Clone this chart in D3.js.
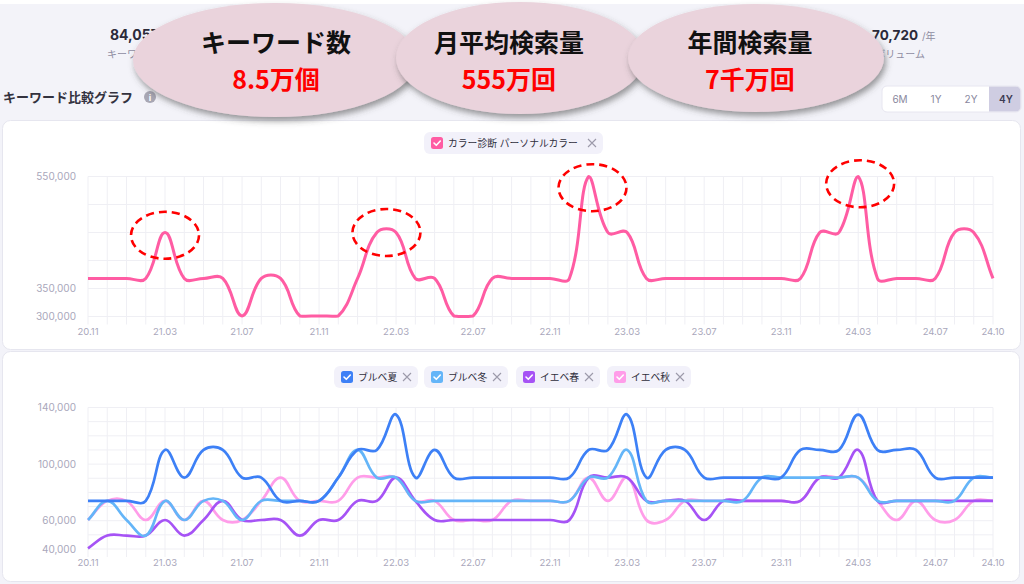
<!DOCTYPE html>
<html>
<head>
<meta charset="utf-8">
<script src="https://cdn.jsdelivr.net/npm/d3@7"></script>
<style>
  html, body { margin: 0; padding: 0; background: #f3f3f9; }
  svg { display: block; font-family: Inter, "Noto Sans CJK JP", sans-serif; }
</style>
</head>
<body>
<svg id="chart"></svg>
<script>
// month categories (Nov 2020 - Oct 2024)
const months = ["20.11","20.12",
  "21.01","21.02","21.03","21.04","21.05","21.06","21.07","21.08","21.09","21.10","21.11","21.12",
  "22.01","22.02","22.03","22.04","22.05","22.06","22.07","22.08","22.09","22.10","22.11","22.12",
  "23.01","23.02","23.03","23.04","23.05","23.06","23.07","23.08","23.09","23.10","23.11","23.12",
  "24.01","24.02","24.03","24.04","24.05","24.06","24.07","24.08","24.09","24.10"];
const tickMonths = ["20.11","21.03","21.07","21.11","22.03","22.07","22.11","23.03","23.07","23.11","24.03","24.07","24.10"];

// upper chart: カラー診断 パーソナルカラー
const colorDiag = [368000,368000,368000,368000,450000,368000,368000,368000,301000,368000,368000,301000,
  301000,301000,368000,450000,450000,368000,368000,301000,301000,368000,368000,368000,
  368000,368000,550000,450000,450000,368000,368000,368000,368000,368000,368000,368000,
  368000,368000,450000,450000,550000,368000,368000,368000,368000,450000,450000,368000];
const upperTicks = [300000, 350000, 550000];

// lower chart
const bluSummer = [74000,74000,74000,74000,110000,90500,110000,110000,90500,90500,74000,74000,
  74000,90500,110000,110000,135000,90500,110000,90500,90500,90500,90500,90500,
  90500,90500,110000,110000,135000,90500,110000,110000,90500,90500,90500,90500,
  90500,110000,110000,110000,135000,110000,110000,110000,90500,90500,90500,90500];
const bluWinter = [60500,74000,60500,49500,74000,60500,74000,74000,60500,74000,74000,74000,
  74000,90500,110000,90500,90500,74000,74000,74000,74000,74000,74000,74000,
  74000,74000,90500,90500,110000,74000,74000,74000,74000,74000,74000,90500,
  90500,90500,90500,90500,90500,74000,74000,74000,74000,74000,90500,90500];
const yelSpring = [40500,49500,49500,49500,60500,49500,60500,74000,60500,60500,60500,49500,
  60500,60500,74000,74000,90500,74000,60500,60500,60500,60500,60500,60500,
  60500,60500,90500,90500,90500,74000,74000,74000,60500,74000,74000,74000,
  74000,74000,90500,90500,110000,74000,74000,74000,74000,74000,74000,74000];
const yelAutumn = [60500,74000,74000,60500,74000,60500,74000,60500,60500,74000,90500,74000,
  74000,74000,90500,90500,90500,74000,74000,60500,60500,60500,74000,74000,
  74000,74000,90500,74000,90500,60500,60500,74000,74000,74000,74000,74000,
  74000,74000,90500,90500,90500,74000,60500,74000,60500,60500,74000,74000];
const lowerTicks = [40000, 60000, 100000, 140000];

// header overlay bubbles
const bubbleTitles = ["キーワード数", "月平均検索量", "年間検索量"];
const bubbleValues = ["8.5万個", "555万回", "7千万回"];
// red dashed marks: [month index, value]
const marks = [[4, 445000], [15.5, 450000], [26.2, 530000], [40.1, 537000]];

const width = 1024, height = 584;
const svg = d3.select('#chart').attr('width', width).attr('height', height);

const defs = svg.append('defs');
defs.append('filter').attr('id', 'shadow')
  .attr('x', '-20%').attr('y', '-20%').attr('width', '140%').attr('height', '150%')
  .append('feDropShadow')
  .attr('dx', 2).attr('dy', 4).attr('stdDeviation', 3)
  .attr('flood-color', '#4a4a4a').attr('flood-opacity', 0.55);

svg.append('rect').attr('width', width).attr('height', 4).attr('fill', '#fff');

// header stats (mostly hidden by bubbles)
svg.append('text').attr('x', 110).attr('y', 40).attr('font-size', 14).attr('font-weight', 700)
  .attr('fill', '#2b2a3a').text('84,057');
svg.append('text').attr('x', 107).attr('y', 58).attr('font-size', 10).attr('fill', '#8f8da2')
  .text('キーワード数');
svg.append('text').attr('x', 918).attr('y', 40).attr('text-anchor', 'end').attr('font-size', 13.5)
  .attr('font-weight', 700).attr('fill', '#2b2a3a').text('70,720');
svg.append('text').attr('x', 922).attr('y', 40).attr('font-size', 10).attr('fill', '#8f8da2').text('/年');
svg.append('text').attr('x', 925).attr('y', 58).attr('text-anchor', 'end').attr('font-size', 10)
  .attr('fill', '#8f8da2').text('年間検索ボリューム');

// section title
svg.append('text').attr('x', 3).attr('y', 102).attr('font-size', 13).attr('font-weight', 700)
  .attr('fill', '#33323f').text('キーワード比較グラフ');
svg.append('circle').attr('cx', 150).attr('cy', 97).attr('r', 6).attr('fill', '#a8a7b4');
svg.append('text').attr('x', 150).attr('y', 100.5).attr('text-anchor', 'middle').attr('font-size', 9)
  .attr('font-weight', 700).attr('fill', '#fff').text('i');

// period switch
const periods = ['6M', '1Y', '2Y', '4Y'];
const pg = svg.append('g');
pg.append('rect').attr('x', 882).attr('y', 86).attr('width', 139).attr('height', 26).attr('rx', 5)
  .attr('fill', '#fff').attr('stroke', '#e7e6f0');
pg.append('path').attr('d', 'M989,86.5H1016a4.5,4.5 0 0 1 4.5,4.5V107a4.5,4.5 0 0 1 -4.5,4.5H989Z')
  .attr('fill', '#cfcde2');
pg.selectAll('text').data(periods).join('text')
  .attr('x', (d, i) => [900, 936, 971, 1006][i]).attr('y', 102.5)
  .attr('text-anchor', 'middle').attr('font-size', 10)
  .attr('font-weight', d => d === '4Y' ? 600 : 400)
  .attr('fill', d => d === '4Y' ? '#3d3b52' : '#8a889e').text(d => d);

// cards
svg.append('rect').attr('x', 2.5).attr('y', 120.5).attr('width', 1018).attr('height', 229).attr('rx', 8)
  .attr('fill', '#fff').attr('stroke', '#e6e6ef');
svg.append('rect').attr('x', 2.5).attr('y', 351.5).attr('width', 1017).attr('height', 230).attr('rx', 8)
  .attr('fill', '#fff').attr('stroke', '#e6e6ef');

const x = d3.scaleLinear().domain([0, months.length - 1]).range([88, 993]);

// Chart.js style spline (tension 0.4, control points capped to plot area)
function splinePath(vals, y) {
  const [x0, x1] = x.range(), [yb, yt] = y.range();
  const cap = (v, lo, hi) => Math.max(Math.min(v, hi), lo);
  const pts = vals.map((v, i) => ({ x: x(i), y: y(v) }));
  const t = 0.4;
  pts.forEach((p, i) => {
    const a = pts[i - 1] || p, b = pts[i + 1] || p;
    const d01 = Math.hypot(p.x - a.x, p.y - a.y), d12 = Math.hypot(b.x - p.x, b.y - p.y);
    const fa = t * (d01 / (d01 + d12) || 0), fb = t * (d12 / (d01 + d12) || 0);
    p.c1 = [cap(p.x - fa * (b.x - a.x), x0, x1), cap(p.y - fa * (b.y - a.y), yt, yb)];
    p.c2 = [cap(p.x + fb * (b.x - a.x), x0, x1), cap(p.y + fb * (b.y - a.y), yt, yb)];
  });
  const path = d3.path();
  path.moveTo(pts[0].x, pts[0].y);
  for (let i = 1; i < pts.length; i++) {
    path.bezierCurveTo(pts[i - 1].c2[0], pts[i - 1].c2[1], pts[i].c1[0], pts[i].c1[1], pts[i].x, pts[i].y);
  }
  return path.toString();
}

function drawGrid(y, step, labels, labelY) {
  const g = svg.append('g');
  const [yb, yt] = y.range();
  const [lo, hi] = y.domain();
  g.selectAll('line.h').data(d3.range(lo, hi + 1, step)).join('line')
    .attr('x1', 88).attr('x2', 993).attr('y1', d => y(d)).attr('y2', d => y(d))
    .attr('stroke', '#efeff4').attr('stroke-width', 1);
  g.selectAll('line.v').data(months).join('line')
    .attr('x1', (d, i) => x(i)).attr('x2', (d, i) => x(i)).attr('y1', yt).attr('y2', yb + 8)
    .attr('stroke', '#efeff4').attr('stroke-width', 1);
  g.selectAll('text.y').data(labels).join('text')
    .attr('x', 76).attr('y', d => y(d)).attr('dy', '0.35em').attr('text-anchor', 'end')
    .attr('font-size', 10).attr('fill', '#a9a7bb').text(d => d3.format(',')(d));
  g.selectAll('text.x').data(tickMonths).join('text')
    .attr('x', d => x(months.indexOf(d))).attr('y', labelY).attr('text-anchor', 'middle')
    .attr('font-size', 9.5).attr('fill', '#a9a7bb').text(d => d);
}

function legendTag(x0, y0, w, label, color) {
  const g = svg.append('g');
  g.append('rect').attr('x', x0).attr('y', y0).attr('width', w).attr('height', 22).attr('rx', 6).attr('fill', '#f2f1fa');
  g.append('rect').attr('x', x0 + 7).attr('y', y0 + 5).attr('width', 12).attr('height', 12).attr('rx', 2.5).attr('fill', color);
  g.append('path').attr('d', `M${x0 + 10},${y0 + 11}l2.3,2.3l4,-4.3`).attr('fill', 'none')
    .attr('stroke', '#fff').attr('stroke-width', 1.6).attr('stroke-linecap', 'round').attr('stroke-linejoin', 'round');
  g.append('text').attr('x', x0 + 24).attr('y', y0 + 15).attr('font-size', 9.8).attr('fill', '#2f2e3c').text(label);
  const cx = x0 + w - 11, cy = y0 + 11;
  g.append('path').attr('d', `M${cx - 4},${cy - 4}L${cx + 4},${cy + 4}M${cx + 4},${cy - 4}L${cx - 4},${cy + 4}`)
    .attr('stroke', '#9c9aaa').attr('stroke-width', 1.1);
}

// upper chart
const yUp = d3.scaleLinear().domain([300000, 550000]).range([316.5, 176.5]);
drawGrid(yUp, 50000, upperTicks, 335);
legendTag(424, 132, 179, 'カラー診断 パーソナルカラー', '#ff5ca3');
svg.append('path').attr('d', splinePath(colorDiag, yUp)).attr('fill', 'none')
  .attr('stroke', '#ff5ca3').attr('stroke-width', 3).attr('stroke-linejoin', 'round');

svg.selectAll('ellipse.mark').data(marks).join('ellipse')
  .attr('cx', d => x(d[0])).attr('cy', d => yUp(d[1])).attr('rx', 34).attr('ry', 23.5)
  .attr('fill', 'none').attr('stroke', '#ff0000').attr('stroke-width', 2.6).attr('stroke-dasharray', '8,5');

// lower chart
const yLow = d3.scaleLinear().domain([40000, 140000]).range([549, 407.5]);
drawGrid(yLow, 10000, lowerTicks, 566);
const lowerSeries = [
  { name: 'ブルベ夏', values: bluSummer, color: '#3d80f6', x0: 334 },
  { name: 'ブルベ冬', values: bluWinter, color: '#64b5f8', x0: 424 },
  { name: 'イエベ春', values: yelSpring, color: '#a653f5', x0: 516 },
  { name: 'イエベ秋', values: yelAutumn, color: '#ff9de9', x0: 607 }
];
lowerSeries.forEach(s => legendTag(s.x0, 366, 84, s.name, s.color));
lowerSeries.slice().reverse().forEach(s => {
  svg.append('path').attr('d', splinePath(s.values, yLow)).attr('fill', 'none')
    .attr('stroke', s.color).attr('stroke-width', 2.7).attr('stroke-linejoin', 'round');
});

// overlay bubbles
const bubbles = [
  { cx: 275, cy: 60, rx: 142, ry: 57, tx: 276 },
  { cx: 520, cy: 58, rx: 124, ry: 56, tx: 509 },
  { cx: 756, cy: 58, rx: 128, ry: 54, tx: 750 }
];
bubbles.forEach((b, i) => {
  const g = svg.append('g');
  g.append('ellipse').attr('cx', b.cx).attr('cy', b.cy).attr('rx', b.rx).attr('ry', b.ry)
    .attr('fill', '#ead3dc').attr('filter', 'url(#shadow)');
  g.append('text').attr('x', b.tx).attr('y', 52).attr('text-anchor', 'middle')
    .attr('font-family', '"Noto Sans CJK JP", sans-serif').attr('font-size', 25).attr('font-weight', 700)
    .attr('fill', '#111').text(bubbleTitles[i]);
  g.append('text').attr('x', b.tx).attr('y', 88.5).attr('text-anchor', 'middle')
    .attr('font-family', '"Noto Sans CJK JP", sans-serif').attr('font-size', 25).attr('font-weight', 700)
    .attr('fill', '#ff0000').text(bubbleValues[i]);
});
</script>
</body>
</html>
